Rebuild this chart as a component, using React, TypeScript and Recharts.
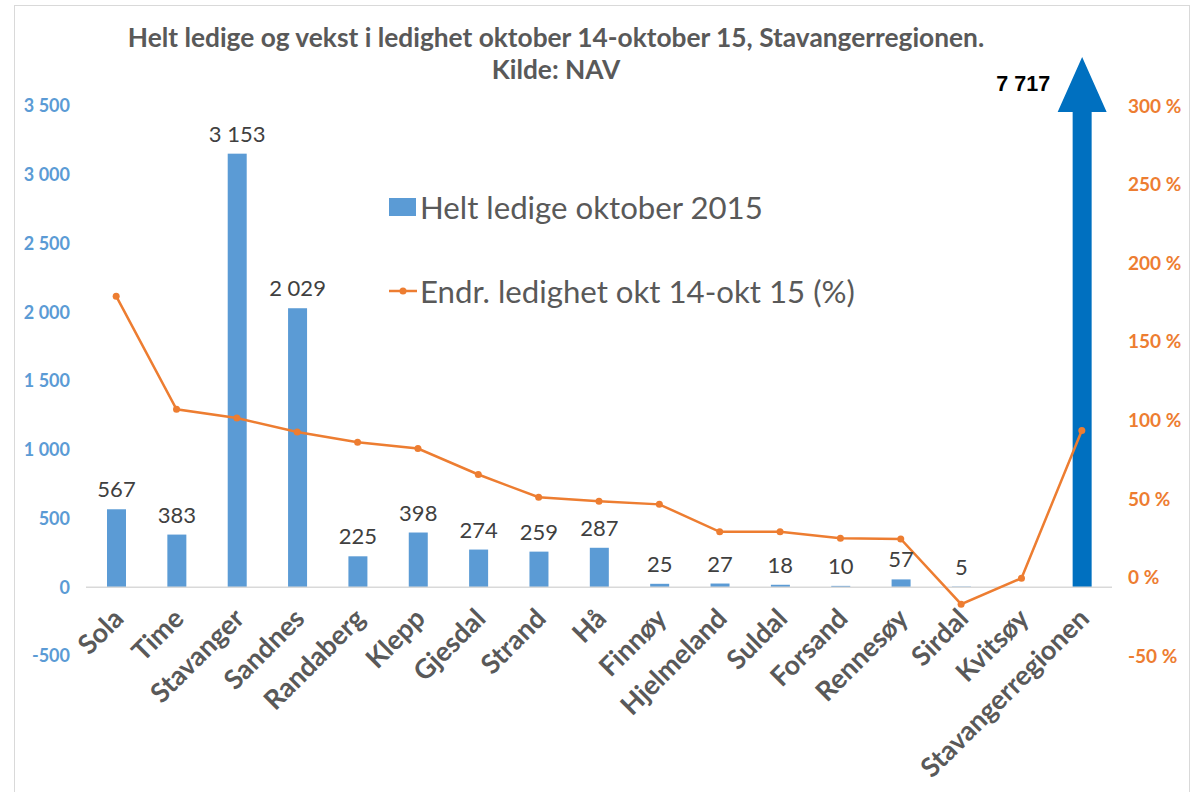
import React from 'react'
import { ComposedChart, Bar, Line, XAxis, YAxis, ReferenceLine, LabelList, Legend } from 'recharts'

const kommuner = [
  'Sola', 'Time', 'Stavanger', 'Sandnes', 'Randaberg', 'Klepp', 'Gjesdal', 'Strand', 'Hå',
  'Finnøy', 'Hjelmeland', 'Suldal', 'Forsand', 'Rennesøy', 'Sirdal', 'Kvitsøy', 'Stavangerregionen',
]
const heltLedige = [567, 383, 3153, 2029, 225, 398, 274, 259, 287, 25, 27, 18, 10, 57, 5, null, 7717]
const endringPst = [179, 107, 101.5, 92.5, 86, 82, 65.5, 51, 48.5, 46.5, 29, 29, 25, 24.5, -17, -0.5, 93.5]

const leftTicks = [-500, 0, 500, 1000, 1500, 2000, 2500, 3000, 3500]
const rightTicks = [-50, 0, 50, 100, 150, 200, 250, 300]

const data = kommuner.map((name, i) => ({ name, ledige: heltLedige[i], endring: endringPst[i] }))

const W = 1198
const H = 792
const PLOT_TOP = 57
const PLOT_BOTTOM = 656
const PLOT_H = PLOT_BOTTOM - PLOT_TOP
// top of the value axes sits above 3 500 / 300 % so the arrow fits
const LEFT_MAX = 3856
const RIGHT_MAX = 331.2
const ZERO_SHIFT = (PLOT_H * 500) / (LEFT_MAX + 500)

const BLUE = '#5B9BD5'
const DARK_BLUE = '#0070C0'
const ORANGE = '#ED7D31'
const GREY = '#595959'
const FONT = 'Lato, "Open Sans", sans-serif'

const fmt = (n: number) => String(n).replace(/\B(?=(\d{3})+(?!\d))/g, ' ')

function ArrowBar(props: any) {
  const { x, y, width, height, payload } = props
  if (payload.ledige == null) return null
  if (payload.ledige > LEFT_MAX) {
    const base = y + height
    const cx = x + width / 2
    const headBase = PLOT_TOP + 55
    const half = 24.5
    const d = `M${x},${base} L${x},${headBase} L${cx - half},${headBase} L${cx},${PLOT_TOP} L${cx + half},${headBase} L${x + width},${headBase} L${x + width},${base} Z`
    return <path d={d} fill={DARK_BLUE} />
  }
  return <rect x={x} y={y} width={width} height={Math.max(height, 0)} fill={BLUE} />
}

function BarLabel(props: any) {
  const { value } = props
  if (value == null) return null
  const vb = props.viewBox || props
  const x = vb.x ?? props.x
  const y = vb.y ?? props.y
  const width = vb.width ?? props.width
  const cx = x + width / 2
  if (value > LEFT_MAX) {
    return (
      <text x={cx - 32} y={PLOT_TOP + 34} textAnchor="end" fill="#000" fontSize={21.5} fontWeight={700}
        fontFamily='"Liberation Sans", Arial, sans-serif'>
        {fmt(value)}
      </text>
    )
  }
  return (
    <text x={cx} y={y - 12} textAnchor="middle" fill="#404040" fontSize={22} fontFamily={FONT}>
      {fmt(value)}
    </text>
  )
}

function CategoryTick(props: any) {
  const { x, y, payload } = props
  const ty = y - ZERO_SHIFT + 33
  return (
    <text transform={`translate(${x + 9},${ty}) rotate(-45)`} textAnchor="end" fill={GREY}
      fontSize={27} fontWeight={700} fontFamily={FONT}>
      {payload.value}
    </text>
  )
}

function LegendBox() {
  const text: React.CSSProperties = { fontSize: 31.2, color: GREY, fontFamily: FONT, lineHeight: '36px' }
  return (
    <div>
      <div style={{ display: 'flex', alignItems: 'center', height: 36 }}>
        <span style={{ display: 'inline-block', width: 27, height: 18, background: BLUE, marginRight: 4 }} />
        <span style={text}>Helt ledige oktober 2015</span>
      </div>
      <div style={{ display: 'flex', alignItems: 'center', height: 36, marginTop: 48 }}>
        <svg width={28} height={10} style={{ marginRight: 3 }}>
          <line x1={0} y1={5} x2={28} y2={5} stroke={ORANGE} strokeWidth={2.5} />
          <circle cx={14} cy={5} r={3.5} fill={ORANGE} />
        </svg>
        <span style={text}>Endr. ledighet okt 14-okt 15 (%)</span>
      </div>
    </div>
  )
}

export default function App() {
  return (
    <div style={{ position: 'absolute', left: 0, top: 0, width: W, height: H, overflow: 'hidden', background: '#fff' }}>
      <div style={{ position: 'absolute', left: 14, top: 5, width: 1174, height: 820, border: '1px solid #D9D9D9' }} />
      <div style={{ position: 'absolute', left: 0, top: 21, width: 1112, textAlign: 'center', color: GREY,
        fontFamily: FONT, fontWeight: 700, fontSize: 26.3, lineHeight: '32px' }}>
        <div>Helt ledige og vekst i ledighet oktober 14-oktober 15, Stavangerregionen.</div>
        <div>Kilde: NAV</div>
      </div>
      <div style={{ position: 'absolute', left: 0, top: 0 }}>
        <ComposedChart width={W} height={H} data={data} margin={{ top: PLOT_TOP, right: 0, bottom: 0, left: 0 }}>
          <XAxis dataKey="name" height={H - PLOT_BOTTOM} axisLine={false} tickLine={false}
            tickSize={0} tickMargin={0} interval={0} tick={<CategoryTick />} />
          <YAxis yAxisId="left" width={86} domain={[-500, LEFT_MAX]} ticks={leftTicks} allowDataOverflow
            axisLine={false} tickLine={false} tickSize={0} tickMargin={16} tickFormatter={fmt}
            tick={{ fill: BLUE, fontSize: 18, fontWeight: 700, fontFamily: FONT }} />
          <YAxis yAxisId="right" orientation="right" width={86} domain={[-50, RIGHT_MAX]} ticks={rightTicks}
            allowDataOverflow axisLine={false} tickLine={false} tickSize={0} tickMargin={16}
            tickFormatter={(v: number) => `${v} %`}
            tick={{ fill: ORANGE, fontSize: 19, fontWeight: 700, fontFamily: FONT }} />
          <ReferenceLine yAxisId="left" y={0} stroke="#D9D9D9" strokeWidth={1.5} />
          <Legend layout="horizontal" verticalAlign="middle" align="center" content={<LegendBox />}
            wrapperStyle={{ left: 389, top: 189, width: 560, height: 120 }} />
          <Bar yAxisId="left" dataKey="ledige" name="Helt ledige oktober 2015" barSize={19} fill={BLUE}
            shape={<ArrowBar />} isAnimationActive={false}>
            <LabelList dataKey="ledige" content={<BarLabel />} />
          </Bar>
          <Line yAxisId="right" dataKey="endring" name="Endr. ledighet okt 14-okt 15 (%)" stroke={ORANGE}
            strokeWidth={2.5} dot={{ r: 3.5, fill: ORANGE, stroke: ORANGE, strokeWidth: 0 }} activeDot={false}
            isAnimationActive={false} />
        </ComposedChart>
      </div>
    </div>
  )
}
